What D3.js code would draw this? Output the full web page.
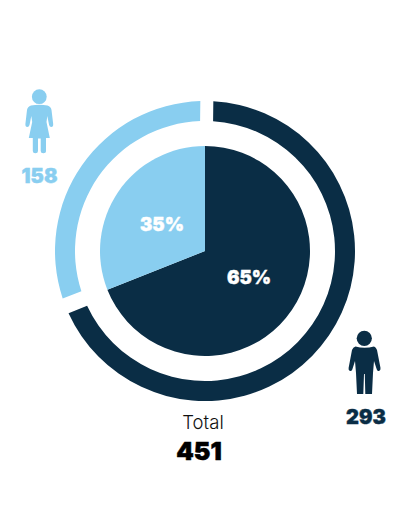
<!DOCTYPE html>
<html>
<head>
<meta charset="utf-8">
<script src="https://cdn.jsdelivr.net/npm/d3@7"></script>
<style>
  html, body { margin: 0; padding: 0; background: #fff; }
  text { font-family: Inter, "Open Sans", sans-serif; }
</style>
</head>
<body>
<div id="chart"></div>
<script>
// Values
const groups = ["male", "female"]
const counts = [293, 158]
const percentLabels = ["65%", "35%"]
const total = 451
const totalLabel = "Total"
// share of the circle as actually drawn in the picture (not the same as the printed %)
const drawnShares = [69, 31]

const colors = { male: "#0a2d45", female: "#89cef0" }

const w = 420
const h = 531
const cx = 205
const cy = 251

const svg = d3.select("#chart")
    .append("svg")
    .attr("width", w)
    .attr("height", h)
    .style("display", "block");

const slices = d3.pie().sort(null).value(d => d)(drawnShares)

// Outer ring
const ringArc = d3.arc()
    .innerRadius(130)
    .outerRadius(150)
    .padRadius(140)
    .padAngle(13 / 140);

svg.append("g")
    .attr("transform", "translate(" + cx + "," + cy + ") rotate(0.7)")
    .selectAll("path")
    .data(slices)
    .enter()
    .append("path")
        // dark ring stops a little earlier, the lower gap is wider than the top one
        .attr("d", (d, i) => ringArc(i === 0 ? { ...d, endAngle: d.endAngle - 0.02 } : d))
        .attr("fill", (d, i) => colors[groups[i]]);

// Inner pie
const pieArc = d3.arc().innerRadius(0).outerRadius(105);

const pieG = svg.append("g")
    .attr("transform", "translate(" + cx + "," + cy + ")");

pieG.selectAll("path")
    .data(slices)
    .enter()
    .append("path")
        .attr("d", pieArc)
        .attr("fill", (d, i) => colors[groups[i]]);

// Percent labels
svg.selectAll(".pct")
    .data(percentLabels)
    .enter()
    .append("text")
        .attr("class", "pct")
        .attr("text-anchor", "middle")
        .attr("x", (d, i) => [249, 162][i])
        .attr("y", (d, i) => [284, 231][i])
        .attr("font-size", 18.5)
        .attr("font-weight", 900)
        .attr("fill", "#fff")
        .attr("stroke", "#fff")
        .attr("stroke-width", 0.4)
        .text(d => d);

// Female icon
const female = svg.append("g").attr("fill", colors.female);
female.append("circle").attr("cx", 39.3).attr("cy", 96.7).attr("r", 7.4);
female.append("path").attr("d",
    "M31 105.5 Q39.3 104 47.5 105.5 Q51 106.5 51.5 110 L53.2 124 Q53.4 127 51.3 127 Q49.6 127 49.1 125 " +
    "L47.3 116 L46.5 122 L49.8 138 L46 138 L46 151 Q46 153.2 43.3 153.2 Q40.7 153.2 40.7 151 L40.7 138.5 L38 138.5 " +
    "L38 151 Q38 153.2 35.4 153.2 Q32.8 153.2 32.8 151 L32.8 138 L28.8 138 L32.2 122 L31.3 116 L29.5 125 " +
    "Q29 127 27.3 127 Q25.2 127 25.4 124 L27 110 Q27.5 106.5 31 105.5 Z");

// Male icon
const male = svg.append("g").attr("fill", colors.male);
male.append("circle").attr("cx", 364.3).attr("cy", 338.3).attr("r", 7.6);
male.append("path").attr("d",
    "M355.5 346.5 Q364.5 349 374 346.5 Q376 347 377 350 L380.5 368 Q380.8 370.5 379 371 Q377.5 371.3 376.8 369.5 " +
    "L374 361 L373 373 L372 394 L365.3 394 L364.8 374 L364 374 L363.3 394 L357 394 L356 373 L355 361 " +
    "L352.3 369.5 Q351.5 371.3 350 371 Q348.2 370.5 348.6 368 L352 350 Q353 347 355.5 346.5 Z");

// Count labels
svg.selectAll(".count")
    .data(counts)
    .enter()
    .append("text")
        .attr("class", "count")
        .attr("text-anchor", "middle")
        .attr("x", (d, i) => [366, 39.5][i])
        .attr("y", (d, i) => [424, 183][i])
        .attr("font-size", 20)
        .attr("font-weight", 900)
        .attr("fill", (d, i) => colors[groups[i]])
        .attr("stroke", (d, i) => colors[groups[i]])
        .attr("stroke-width", 0.4)
        .text(d => d);

// Total
svg.append("text")
    .attr("text-anchor", "middle")
    .attr("x", 203)
    .attr("y", 428.5)
    .attr("font-size", 18.5)
    .attr("font-weight", 300)
    .attr("fill", "#111")
    .text(totalLabel);

svg.append("text")
    .attr("text-anchor", "middle")
    .attr("x", 199)
    .attr("y", 460)
    .attr("font-size", 25)
    .attr("font-weight", 900)
    .attr("fill", "#000")
    .attr("stroke", "#000")
    .attr("stroke-width", 0.5)
    .text(total);
</script>
</body>
</html>
